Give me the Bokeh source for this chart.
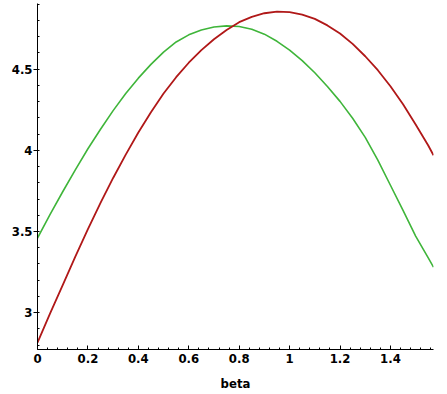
from bokeh.plotting import figure
from bokeh.models import Range1d, FixedTicker
from bokeh.embed import file_html
from bokeh.resources import INLINE

# --- data ---
beta = [0.0, 0.05, 0.1, 0.15, 0.2, 0.25, 0.3, 0.35, 0.4, 0.45, 0.5, 0.55, 0.6, 0.65,
        0.7, 0.75, 0.8, 0.85, 0.9, 0.95, 1.0, 1.05, 1.1, 1.15, 1.2, 1.25, 1.3, 1.35,
        1.4, 1.45, 1.5, 1.55, 1.5708]
red_vals = [2.816, 2.995, 3.17, 3.345, 3.515, 3.676, 3.83, 3.974, 4.11, 4.235, 4.35,
            4.451, 4.54, 4.618, 4.685, 4.742, 4.79, 4.823, 4.845, 4.855, 4.852, 4.837,
            4.81, 4.77, 4.72, 4.656, 4.58, 4.494, 4.395, 4.284, 4.16, 4.03, 3.97]
green_vals = [3.46, 3.605, 3.745, 3.88, 4.01, 4.13, 4.245, 4.35, 4.445, 4.53, 4.605,
              4.668, 4.712, 4.742, 4.76, 4.767, 4.763, 4.746, 4.716, 4.672, 4.618,
              4.553, 4.478, 4.394, 4.302, 4.198, 4.08, 3.94, 3.785, 3.63, 3.472, 3.337, 3.28]
x_ticks = [0, 0.2, 0.4, 0.6, 0.8, 1.0, 1.2, 1.4]
x_tick_labels = ["0", "0.2", "0.4", "0.6", "0.8", "1", "1.2", "1.4"]
y_ticks = [3.0, 3.5, 4.0, 4.5]
y_tick_labels = ["3", "3.5", "4", "4.5"]
x_label = "beta"

FONT = "'Liberation Sans Narrow', 'DejaVu Sans Condensed', 'Liberation Sans', sans-serif"

p = figure(width=447, height=394, output_backend="svg", toolbar_location=None,
           x_range=Range1d(0, 1.5708), y_range=Range1d(2.773, 4.905),
           min_border_left=37, min_border_right=14, min_border_top=3, min_border_bottom=45)
p.title.visible = False
p.outline_line_color = None
p.xgrid.visible = False
p.ygrid.visible = False
p.background_fill_color = "white"
p.border_fill_color = "white"

p.line(beta, green_vals, line_color="#3fb53a", line_width=1.6, line_join="round")
p.line(beta, red_vals, line_color="#b01818", line_width=1.8, line_join="round")

xminor = [round(i * 0.04, 4) for i in range(0, 40)]
yminor = [round(2.8 + i * 0.1, 4) for i in range(0, 22)]
p.xaxis.ticker = FixedTicker(ticks=x_ticks, minor_ticks=xminor)
p.yaxis.ticker = FixedTicker(ticks=y_ticks, minor_ticks=yminor)
p.xaxis.major_label_overrides = {t: l for t, l in zip(x_ticks, x_tick_labels)}
p.yaxis.major_label_overrides = {t: l for t, l in zip(y_ticks, y_tick_labels)}

for ax in (p.xaxis, p.yaxis):
    ax.axis_line_color = "black"
    ax.axis_line_width = 1
    ax.major_tick_line_color = "black"
    ax.minor_tick_line_color = "black"
    ax.major_label_text_font = FONT
    ax.major_label_text_font_style = "bold"
    ax.major_label_text_font_size = "13px"
    ax.major_label_text_color = "black"

p.xaxis.major_tick_in = 4
p.xaxis.major_tick_out = 0
p.xaxis.minor_tick_in = 2
p.xaxis.minor_tick_out = 0
p.xaxis.major_label_standoff = 4

p.yaxis.major_tick_in = 0
p.yaxis.major_tick_out = 4
p.yaxis.minor_tick_in = 2
p.yaxis.minor_tick_out = 0
p.yaxis.major_label_standoff = 1

p.xaxis.axis_label = x_label
p.xaxis.axis_label_text_font = FONT
p.xaxis.axis_label_text_font_style = "bold"
p.xaxis.axis_label_text_font_size = "13px"
p.xaxis.axis_label_text_color = "black"
p.xaxis.axis_label_standoff = 10

open("out.html", "w").write(file_html(p, INLINE))
